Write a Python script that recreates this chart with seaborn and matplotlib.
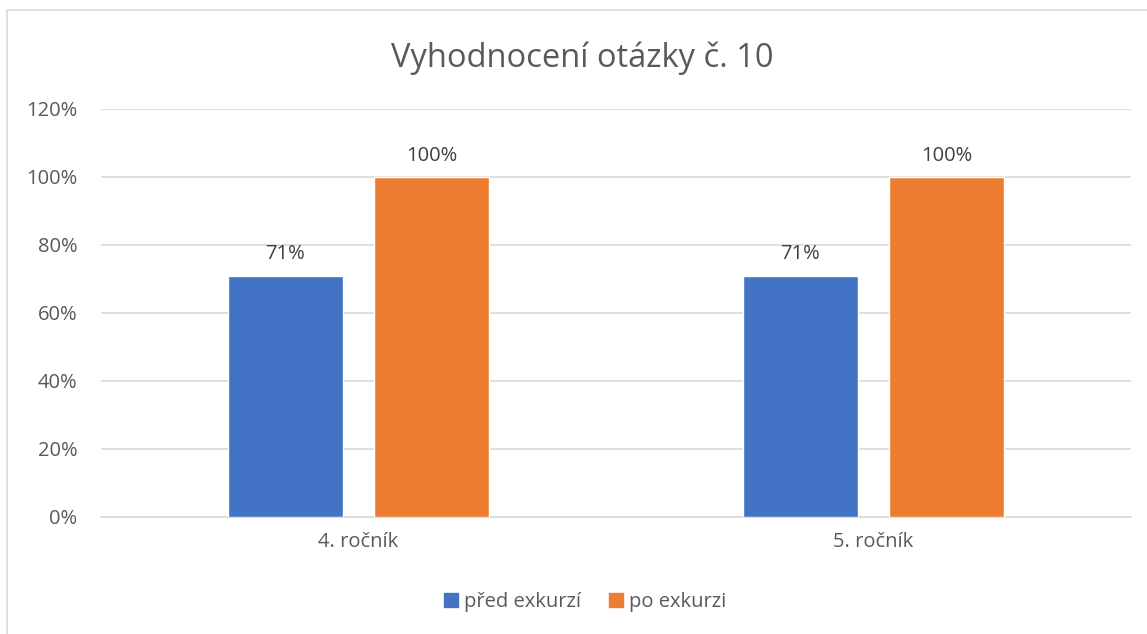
import matplotlib
matplotlib.use("Agg")
import matplotlib.pyplot as plt
import matplotlib.patches as mpatches
import pandas as pd
import seaborn as sns

categories = ["4. ročník", "5. ročník"]
series = ["před exkurzí", "po exkurzi"]
pred = [0.71, 0.71]
po = [1.00, 1.00]
yticks = [0, 0.2, 0.4, 0.6, 0.8, 1.0, 1.2]

COLORS = {"před exkurzí": "#4472C4", "po exkurzi": "#ED7D31"}
TEXT = "#595959"

df = pd.DataFrame({
    "rocnik": categories * 2,
    "serie": [series[0]] * 2 + [series[1]] * 2,
    "value": pred + po,
})

sns.set_theme(style="white")
plt.rcParams["font.family"] = ["Open Sans", "DejaVu Sans"]

fig = plt.figure(figsize=(11.47, 6.34), dpi=100)
ax = fig.add_axes([101 / 1147, 117 / 634, 1030 / 1147, 408 / 634])

sns.barplot(data=df, x="rocnik", y="value", hue="serie", hue_order=series,
            order=categories, palette=COLORS, width=0.567, gap=0.212,
            saturation=1, legend=False, ax=ax, zorder=3)

for cont in ax.containers:
    ax.bar_label(cont, labels=[f"{v * 100:.0f}%" for v in cont.datavalues],
                 padding=8, fontsize=14.5, color="#404040")

ax.set_ylim(0, 1.2)
ax.set_xlim(-0.5, 1.5)
ax.set_yticks(yticks)
ax.set_yticklabels([f"{t * 100:.0f}%" for t in yticks])
ax.yaxis.grid(True, color="#D9D9D9", linewidth=1.2, zorder=0)
ax.set_axisbelow(True)
for s in ["top", "right", "left"]:
    ax.spines[s].set_visible(False)
ax.spines["bottom"].set_color("#D9D9D9")
ax.spines["bottom"].set_linewidth(1.2)
ax.tick_params(axis="both", length=0, labelsize=14.5, labelcolor=TEXT)
ax.tick_params(axis="y", pad=17)
ax.tick_params(axis="x", pad=11)
ax.set_xlabel("")
ax.set_ylabel("")

fig.text(0.508, 0.908, "Vyhodnocení otázky č. 10", ha="center", va="center",
         fontsize=23.5, color=TEXT)

handles = [mpatches.Patch(color=COLORS[s], label=s) for s in series]
fig.legend(handles=handles, loc="center", bbox_to_anchor=(0.51, 0.05), ncol=2,
           frameon=False, fontsize=14.5, labelcolor=TEXT, handlelength=0.7,
           handleheight=0.7, handletextpad=0.3, columnspacing=1.4)

fig.patches.append(mpatches.Rectangle((7 / 1147, -0.01), 1.5, 0.995,
                                      transform=fig.transFigure, fill=False,
                                      edgecolor="#D9D9D9", linewidth=1.2))

fig.savefig("out.png", dpi=100, facecolor="white")
